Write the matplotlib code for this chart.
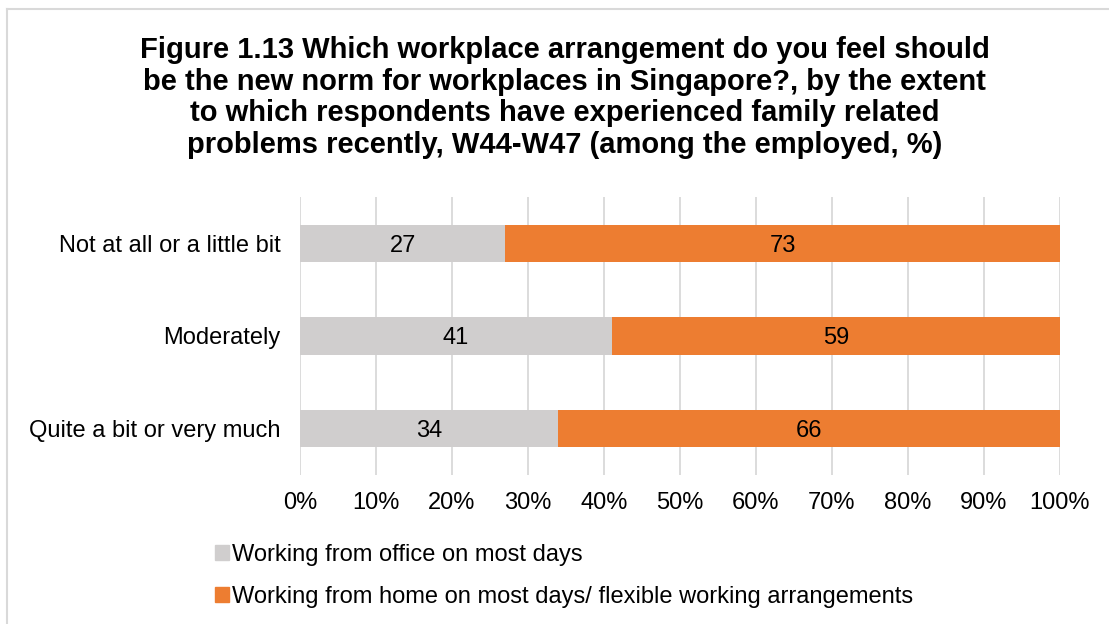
import matplotlib.pyplot as plt
from matplotlib.lines import Line2D
from matplotlib.patches import Patch

plt.rcParams['font.family'] = ['Liberation Sans', 'DejaVu Sans']

groups = ["Not at all or a little bit", "Moderately", "Quite a bit or very much"]
office = [27, 41, 34]
home = [73, 59, 66]
series_names = ["Working from office on most days",
                "Working from home on most days/ flexible working arrangements"]
grey = "#D0CECE"
orange = "#ED7D31"

fig = plt.figure(figsize=(11.09, 6.24), dpi=100)
ax = fig.add_axes([0.2705, 0.2388, 0.6853, 0.4455])

y = list(range(len(groups)))
ax.barh(y, office, height=0.4, color=grey)
ax.barh(y, home, left=office, height=0.4, color=orange)
for i, (o, h) in enumerate(zip(office, home)):
    ax.text(o / 2, i, str(o), ha="center", va="center_baseline", fontsize=17)
    ax.text(o + h / 2, i, str(h), ha="center", va="center_baseline", fontsize=17)

ax.set_xlim(0, 100)
ax.set_ylim(2.5, -0.5)
ax.set_xticks(range(0, 101, 10))
ax.set_xticklabels([f"{t}%" for t in range(0, 101, 10)], fontsize=17)
ax.set_yticks(y)
ax.set_yticklabels(groups, fontsize=17)
ax.tick_params(length=0)
ax.tick_params(axis="x", pad=12)
ax.tick_params(axis="y", pad=14)
ax.grid(axis="x", color="#D9D9D9", linewidth=1.3)
ax.set_axisbelow(True)
for s in ax.spines.values():
    s.set_visible(False)

fig.text(0.509, 0.942,
         "Figure 1.13 Which workplace arrangement do you feel should\n"
         "be the new norm for workplaces in Singapore?, by the extent\n"
         "to which respondents have experienced family related\n"
         "problems recently, W44-W47 (among the employed, %)",
         ha="center", va="top", fontsize=21, fontweight="bold", linespacing=1.165)

handles = [Patch(color=grey), Patch(color=orange)]
fig.legend(handles, series_names, loc="upper left", bbox_to_anchor=(0.185, 0.143),
           bbox_transform=fig.transFigure, frameon=False, fontsize=17,
           handlelength=0.6, handleheight=0.6, handletextpad=0.15, labelspacing=0.85,
           borderaxespad=0)

# light frame around the chart
fig.add_artist(Line2D([7 / 1109, 7 / 1109], [0, 1 - 9 / 624], color="#D9D9D9", lw=1.5))
fig.add_artist(Line2D([7 / 1109, 1], [1 - 9 / 624, 1 - 9 / 624], color="#D9D9D9", lw=1.5))

fig.savefig("out.png", dpi=100)
